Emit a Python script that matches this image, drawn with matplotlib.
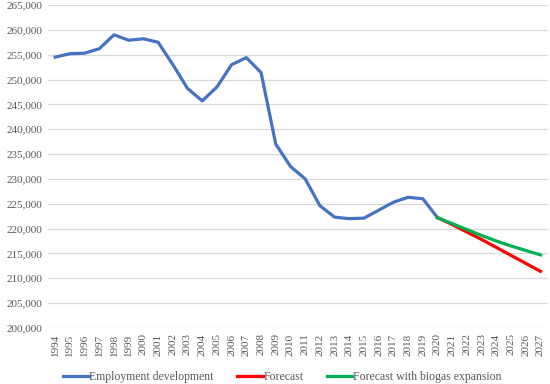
import numpy as np
import matplotlib
matplotlib.use('Agg')
import matplotlib.pyplot as plt
from matplotlib.ticker import FuncFormatter

plt.rcParams['font.family'] = ['Liberation Serif', 'DejaVu Serif']

years = list(range(1994, 2021))
employment = [254500, 255200, 255300, 256200, 259000, 257900, 258200, 257500,
              253000, 248200, 245700, 248500, 253000, 254400, 251400, 237000,
              232500, 230000, 224600, 222300, 222000, 222100, 223700, 225300,
              226300, 226000, 222200]
fc_years = list(range(2020, 2028))
forecast = [222200, 220800, 219300, 217800, 216200, 214600, 213000, 211400]
forecast_biogas = [222200, 221000, 219800, 218600, 217500, 216500, 215600, 214700]

TXT = '#595959'
fig = plt.figure(figsize=(5.5, 3.84), dpi=100)
ax = fig.add_axes([0.087, 0.146, 0.909, 0.841])

ax.plot(years, employment, color='#4472C4', lw=2.3, label='Employment development',
        solid_joinstyle='round')
ax.plot(fc_years, forecast, color='#FF0000', lw=2.3, label='Forecast')
ax.plot(fc_years, forecast_biogas, color='#00B050', lw=2.3,
        label='Forecast with biogas expansion')

ax.set_xlim(1993.5, 2027.5)
ax.set_ylim(200000, 265000)
ax.set_yticks(np.arange(200000, 265001, 5000))
ax.yaxis.set_major_formatter(FuncFormatter(lambda v, p: f'{int(v):,}'))
ax.set_xticks(range(1994, 2028))
ax.set_xticklabels([str(y) for y in range(1994, 2028)], rotation=90)
ax.tick_params(length=0, labelsize=8, colors=TXT, pad=4)
ax.grid(axis='y', color='#d9d9d9', lw=0.9)
ax.set_axisbelow(True)
for s in ax.spines.values():
    s.set_visible(False)

fig.legend(loc='lower center', ncol=3, frameon=False, fontsize=8.5,
           bbox_to_anchor=(0.513, -0.025), handlelength=2.2, handletextpad=0.05,
           columnspacing=1.95, labelcolor=TXT)

fig.savefig('out.png', dpi=100)
